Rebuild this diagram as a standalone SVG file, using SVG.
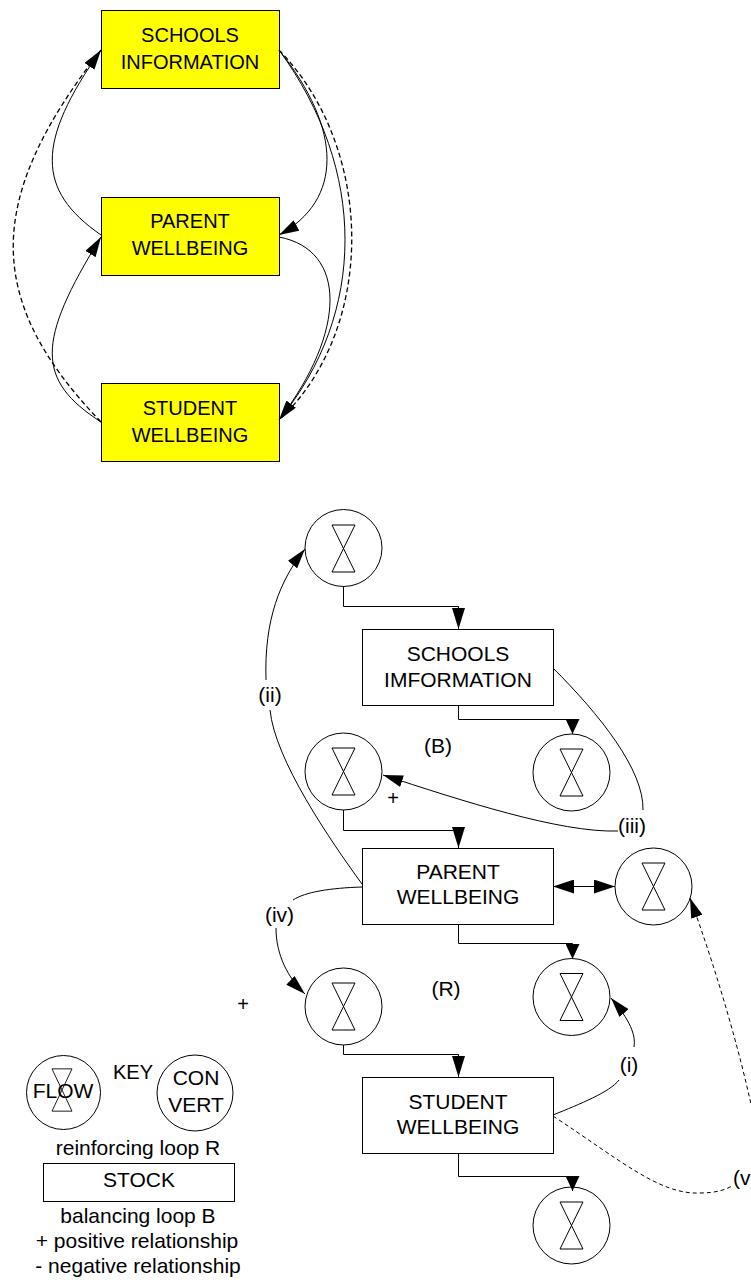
<svg xmlns="http://www.w3.org/2000/svg" width="751" height="1280" viewBox="0 0 751 1280">
<defs>
<style>
.t{font-family:"Liberation Sans",Arial,sans-serif;font-size:20px;fill:#000;text-anchor:middle}
.t21{font-size:21px}
.yb{fill:#ffff00;stroke:#000;stroke-width:1}
.wb{fill:#fff;stroke:#000;stroke-width:1}
.ln{fill:none;stroke:#000;stroke-width:1}
.dl{fill:none;stroke:#000;stroke-width:1.3;stroke-dasharray:5 3}
.ds{fill:none;stroke:#000;stroke-width:1;stroke-dasharray:4 3}
</style>
<marker id="ah" viewBox="0 0 20 12" refX="20" refY="6" markerWidth="20" markerHeight="12" markerUnits="userSpaceOnUse" orient="auto"><path d="M0,0 L20,6 L0,12 z" fill="#000"/></marker>
<marker id="ahs" viewBox="0 0 15 14" refX="15" refY="7" markerWidth="15" markerHeight="14" markerUnits="userSpaceOnUse" orient="auto"><path d="M0,0 L15,7 L0,14 z" fill="#000"/></marker>
<marker id="ahl" viewBox="0 0 21 13" refX="21" refY="6.5" markerWidth="21" markerHeight="13" markerUnits="userSpaceOnUse" orient="auto"><path d="M0,0 L21,6.5 L0,13 z" fill="#000"/></marker>
<marker id="ahd" viewBox="0 0 21 14" refX="21" refY="7" markerWidth="21" markerHeight="14" markerUnits="userSpaceOnUse" orient="auto-start-reverse"><path d="M0,0 L21,7 L0,14 z" fill="#000"/></marker>
<path id="hg" d="M-11.5,-23.5 H11.5 L-11.5,23.5 H11.5 Z" fill="none" stroke="#000" stroke-width="1"/>
</defs>

<!-- Upper diagram nodes -->
<g id="schools-top">
<rect class="yb" x="101.5" y="10.5" width="178" height="78"/>
<text class="t" x="190" y="42">SCHOOLS</text>
<text class="t" x="190" y="69">INFORMATION</text>
</g>
<g id="parent-top">
<rect class="yb" x="101.5" y="197.5" width="178" height="78"/>
<text class="t" x="190" y="228">PARENT</text>
<text class="t" x="190" y="255">WELLBEING</text>
</g>
<g id="student-top">
<rect class="yb" x="101.5" y="383.5" width="178" height="78"/>
<text class="t" x="190" y="415">STUDENT</text>
<text class="t" x="190" y="442">WELLBEING</text>
</g>

<!-- Lower diagram nodes -->
<g id="flow-top">
<circle class="wb" cx="343.5" cy="548" r="38.5"/>
<use href="#hg" x="343.5" y="548.5"/>
</g>
<g id="schools-stock">
<rect class="wb" x="362.5" y="629.5" width="191" height="76"/>
<text class="t t21" x="458" y="661">SCHOOLS</text>
<text class="t t21" x="458" y="687">IMFORMATION</text>
</g>
<g id="flow-schools-out">
<circle class="wb" cx="571.5" cy="772.5" r="38.5"/>
<use href="#hg" x="571.5" y="772.5"/>
</g>
<g id="flow-b">
<circle class="wb" cx="343.5" cy="771.5" r="38.5"/>
<use href="#hg" x="343.5" y="771.5"/>
</g>
<g id="parent-stock">
<rect class="wb" x="362.5" y="848.5" width="191" height="76"/>
<text class="t t21" x="458" y="879">PARENT</text>
<text class="t t21" x="458" y="904">WELLBEING</text>
</g>
<g id="flow-right">
<circle class="wb" cx="653.5" cy="886.5" r="38.5"/>
<use href="#hg" x="653.5" y="886.5"/>
</g>
<g id="flow-parent-out">
<circle class="wb" cx="571.5" cy="997" r="38.5"/>
<use href="#hg" x="571.5" y="997"/>
</g>
<g id="flow-r">
<circle class="wb" cx="343.5" cy="1006.5" r="38.5"/>
<use href="#hg" x="343.5" y="1006.5"/>
</g>
<g id="student-stock">
<rect class="wb" x="362.5" y="1077.5" width="191" height="76"/>
<text class="t t21" x="458" y="1109">STUDENT</text>
<text class="t t21" x="458" y="1134">WELLBEING</text>
</g>
<g id="flow-student-out">
<circle class="wb" cx="571.5" cy="1225.5" r="38.5"/>
<use href="#hg" x="571.5" y="1225.5"/>
</g>

<!-- Labels -->
<g id="labels">
<text class="t t21" x="438" y="753">(B)</text>
<text class="t t21" x="446" y="996">(R)</text>
<text class="t" x="393" y="805">+</text>
<text class="t" x="243" y="1011">+</text>
<text class="t t21" x="270" y="702">(ii)</text>
<text class="t t21" x="632" y="833">(iii)</text>
<text class="t t21" x="279.5" y="922">(iv)</text>
<text class="t t21" x="629" y="1072">(i)</text>
<text class="t t21" x="733" y="1185" style="text-anchor:start">(v</text>
</g>

<!-- Key -->
<g id="key">
<circle class="wb" cx="63.5" cy="1092.5" r="37"/>
<use href="#hg" x="62" y="1090" transform="translate(62 1090) scale(0.87 0.9) translate(-62 -1090)"/>
<text class="t t21" x="63" y="1098">FLOW</text>
<text class="t" x="133" y="1079">KEY</text>
<circle class="wb" cx="195" cy="1093" r="38"/>
<text class="t t21" x="196" y="1085">CON</text>
<text class="t t21" x="196" y="1112">VERT</text>
<text class="t t21" x="138" y="1155">reinforcing loop R</text>
<rect class="wb" x="43.5" y="1163.5" width="191" height="38"/>
<text class="t t21" x="139" y="1187">STOCK</text>
<text class="t t21" x="138" y="1223">balancing loop B</text>
<text class="t t21" x="137" y="1248">+ positive relationship</text>
<text class="t t21" x="138" y="1273">- negative relationship</text>
</g>

<!-- Connectors -->
<g id="connectors">
<!-- upper diagram -->
<path class="ln" d="M101,235 C36,190 36,142 101,50" marker-end="url(#ah)"/>
<path class="ln" d="M101,422 C36,380 36,342 101,237" marker-end="url(#ah)"/>
<path class="dl" d="M101,422 C-16,300 -16,200 101,50"/>
<path class="ln" d="M279,50 C343,130 343,200 279,235" marker-end="url(#ah)"/>
<path class="ln" d="M279,237 C347,250 347,331 279,420" marker-end="url(#ah)"/>
<path class="ln" d="M279,50 C367,170 367,313 279,420"/>
<path class="dl" d="M279,50 C376,150 376,330 279,420"/>

<!-- lower diagram pipes -->
<path class="ln" d="M343.5,586 V606.5 H458.5 V629" marker-end="url(#ahl)"/>
<path class="ln" d="M458.5,705 V719.5 H572.5 V734" marker-end="url(#ahs)"/>
<path class="ln" d="M343.5,810 V830.5 H458.5 V848" marker-end="url(#ahl)"/>
<path class="ln" d="M458.5,924 V943.5 H572.5 V959" marker-end="url(#ahs)"/>
<path class="ln" d="M343.5,1045 V1054.5 H458.5 V1077" marker-end="url(#ahl)"/>
<path class="ln" d="M458.5,1153 V1176.5 H572.5 V1191" marker-end="url(#ahs)"/>
<path class="ln" d="M553,886.5 H615" marker-start="url(#ahd)" marker-end="url(#ahd)"/>

<!-- (ii) -->
<path class="ln" d="M362,884 C330,840 275,760 270,710"/>
<path class="ln" d="M266,680 C264,620 280,580 305,549" marker-end="url(#ah)"/>
<!-- (iii) -->
<path class="ln" d="M553,668 C600,715 644,770 643,810"/>
<path class="ln" d="M618,831 C560,833 460,800 383,775" marker-end="url(#ah)"/>
<!-- (iv) -->
<path class="ln" d="M362,887 C330,888 305,892 293,900"/>
<path class="ln" d="M276,928 C276,955 288,978 305,994" marker-end="url(#ah)"/>
<!-- (i) -->
<path class="ln" d="M553,1115 C580,1104 610,1092 619,1080"/>
<path class="ln" d="M634,1047 C636,1035 630,1020 611,998" marker-end="url(#ah)"/>
<!-- (v) -->
<path class="ds" d="M553,1116 C620,1160 660,1195 700,1193 C715,1193 725,1190 732,1186"/>
<path class="ds" d="M762,1165 C752,1090 720,980 690,898" marker-end="url(#ah)"/>
</g>
</svg>
